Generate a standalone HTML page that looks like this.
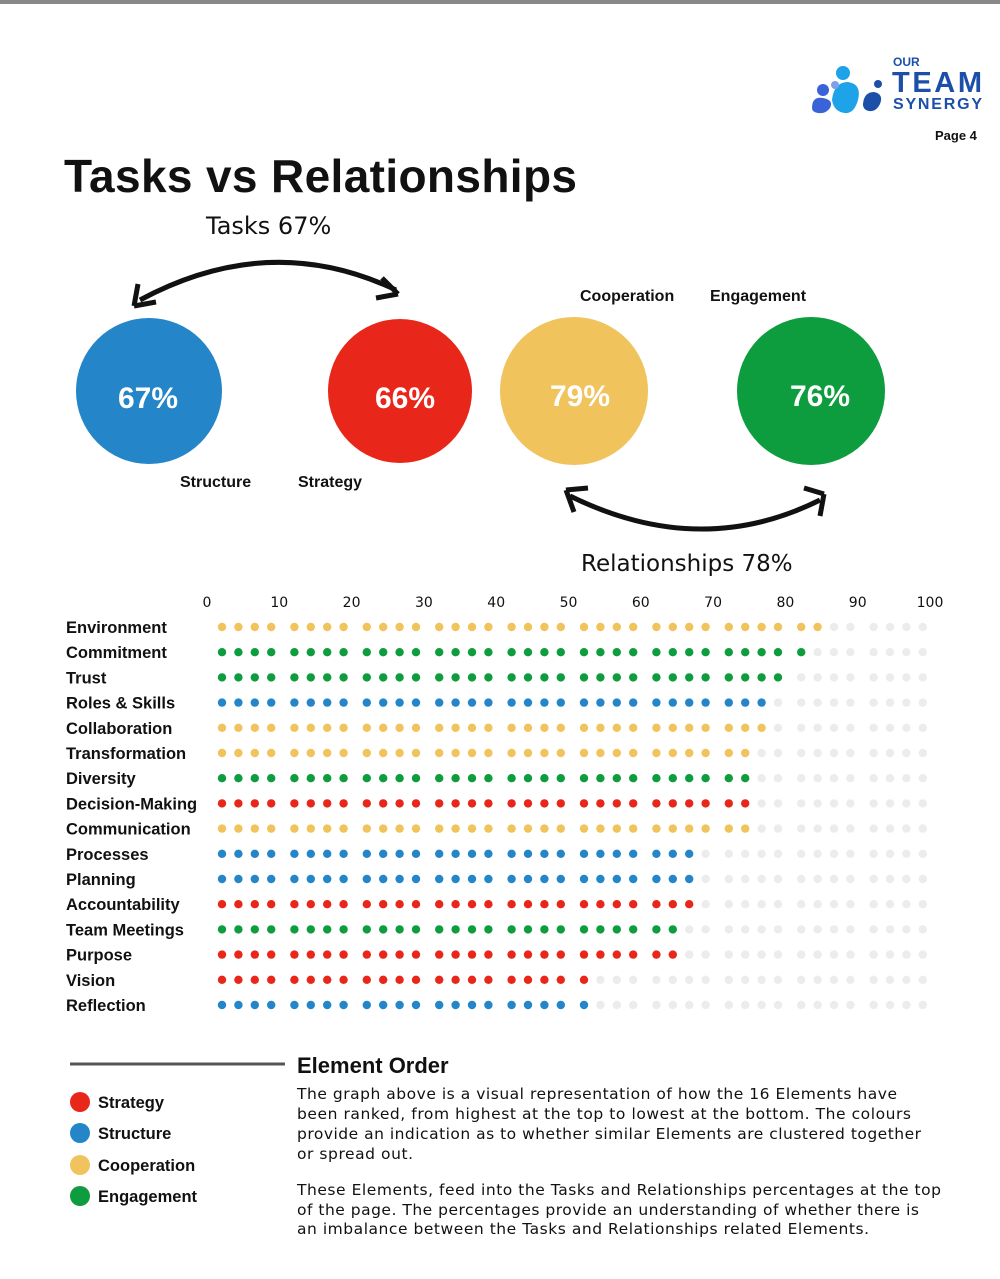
<!DOCTYPE html>
<html><head><meta charset="utf-8"><style>
body{margin:0;background:#fff;}
svg{display:block}
.b{font-family:"Liberation Sans",Arial,sans-serif;font-weight:bold}
.d{font-family:"DejaVu Sans",sans-serif}
</style></head><body>
<svg id="s" width="1000" height="1279" xmlns="http://www.w3.org/2000/svg">
<rect x="0" y="0" width="1000" height="4" fill="#888"/>
<!-- logo -->
<circle cx="823" cy="90" r="6" fill="#3a63d8"/>
<path d="M812 108 Q812 96 823 98 Q834 100 830 108 Q826 114 818 113 Q812 112 812 108Z" fill="#3a63d8"/>
<circle cx="843" cy="73" r="7" fill="#1fa3e8"/>
<path d="M832 100 Q834 82 848 82 Q862 84 858 100 Q854 114 845 113 Q834 112 832 100Z" fill="#1fa3e8"/>
<circle cx="835" cy="85" r="4" fill="#7fa0e8"/>
<circle cx="878" cy="84" r="4" fill="#1c4fa8"/>
<path d="M863 104 Q864 92 874 92 Q884 94 880 104 Q876 112 869 111 Q863 110 863 104Z" fill="#1c4fa8"/>
<text x="893" y="66" class="b" font-size="12" fill="#1c4fa8">OUR</text>
<text x="892" y="92" class="b" font-size="29" fill="#1c4fa8" textLength="90">TEAM</text>
<text x="893" y="109" class="b" font-size="16" fill="#1c4fa8" textLength="89">SYNERGY</text>
<text x="935" y="140" class="b" font-size="13" fill="#111">Page 4</text>
<text x="64" y="192" class="b" font-size="46" fill="#111" textLength="513">Tasks vs Relationships</text>
<text x="206" y="234" class="d" font-size="24" fill="#111">Tasks 67%</text>
<!-- top arrow -->
<path d="M140 300 Q270 230 396 290" fill="none" stroke="#111" stroke-width="5"/>
<path d="M134 306 L138 284 M134 306 L156 302" stroke="#111" stroke-width="5" fill="none"/>
<path d="M398 294 L382 278 M398 294 L376 298" stroke="#111" stroke-width="5" fill="none"/>
<text x="580" y="301" class="b" font-size="16" fill="#111">Cooperation</text>
<text x="710" y="301" class="b" font-size="16" fill="#111">Engagement</text>
<circle cx="149" cy="391" r="73" fill="#2485c8"/>
<circle cx="400" cy="391" r="72" fill="#e8271a"/>
<circle cx="574" cy="391" r="74" fill="#f0c35c"/>
<circle cx="811" cy="391" r="74" fill="#0e9d3e"/>
<g class="b" font-size="30" fill="#fff" text-anchor="middle">
<text x="148" y="408">67%</text><text x="405" y="408">66%</text><text x="580" y="406">79%</text><text x="820" y="406">76%</text></g>
<text x="180" y="487" class="b" font-size="16" fill="#111">Structure</text>
<text x="298" y="487" class="b" font-size="16" fill="#111">Strategy</text>
<!-- bottom arrow -->
<path d="M570 496 Q700 560 820 500" fill="none" stroke="#111" stroke-width="5"/>
<path d="M566 490 L574 512 M566 490 L588 488" stroke="#111" stroke-width="5" fill="none"/>
<path d="M824 494 L820 516 M824 494 L804 488" stroke="#111" stroke-width="5" fill="none"/>
<text x="581" y="571" class="d" font-size="23" fill="#111">Relationships 78%</text>
<g id="ax" class="d" font-size="14" fill="#111" text-anchor="middle"></g>
<g id="lb" class="b" font-size="16.5" fill="#111"></g>
<g id="dots"></g>
<line x1="70" y1="1064" x2="285" y2="1064" stroke="#555" stroke-width="3"/>
<text x="297" y="1073" class="b" font-size="22" fill="#111">Element Order</text>
<circle cx="80" cy="1102" r="10" fill="#e8271a"/><text x="98" y="1108" class="b" font-size="16.5" fill="#111">Strategy</text>
<circle cx="80" cy="1133" r="10" fill="#2485c8"/><text x="98" y="1139" class="b" font-size="16.5" fill="#111">Structure</text>
<circle cx="80" cy="1165" r="10" fill="#f0c35c"/><text x="98" y="1171" class="b" font-size="16.5" fill="#111">Cooperation</text>
<circle cx="80" cy="1196" r="10" fill="#0e9d3e"/><text x="98" y="1202" class="b" font-size="16.5" fill="#111">Engagement</text>
<g class="d" font-size="15.5" fill="#111">
<text x="297" y="1099" textLength="600">The graph above is a visual representation of how the 16 Elements have</text>
<text x="297" y="1119" textLength="614">been ranked, from highest at the top to lowest at the bottom. The colours</text>
<text x="297" y="1139" textLength="624">provide an indication as to whether similar Elements are clustered together</text>
<text x="297" y="1159" textLength="116">or spread out.</text>
<text x="297" y="1195" textLength="644">These Elements, feed into the Tasks and Relationships percentages at the top</text>
<text x="297" y="1215" textLength="622">of the page. The percentages provide an understanding of whether there is</text>
<text x="297" y="1234" textLength="572">an imbalance between the Tasks and Relationships related Elements.</text>
</g>
</svg>
<script>
var ns="http://www.w3.org/2000/svg";
function el(p,t,a,txt){var e=document.createElementNS(ns,t);for(var k in a)e.setAttribute(k,a[k]);if(txt)e.textContent=txt;p.appendChild(e);}
var ax=document.getElementById('ax');
for(var i=0;i<=10;i++)el(ax,'text',{x:207+i*72.3,y:607},String(i*10));
var C={y:'#f0c35c',g:'#0e9d3e',b:'#2485c8',r:'#e8271a'};
var rows=[["Environment","y",34],["Commitment","g",33],["Trust","g",32],["Roles & Skills","b",31],["Collaboration","y",31],["Transformation","y",30],["Diversity","g",30],["Decision-Making","r",30],["Communication","y",30],["Processes","b",27],["Planning","b",27],["Accountability","r",27],["Team Meetings","g",26],["Purpose","r",26],["Vision","r",21],["Reflection","b",21]];
var lb=document.getElementById('lb'),dg=document.getElementById('dots');
rows.forEach(function(r,j){var y=627+j*25.2;
el(lb,'text',{x:66,y:y+6},r[0]);
for(var k=0;k<40;k++){var x=222+Math.floor(k/4)*72.4+(k%4)*16.4;
el(dg,'circle',{cx:x,cy:y,r:4.2,fill:k<r[2]?C[r[1]]:'#ececec'});}
});
</script>
</body></html>
